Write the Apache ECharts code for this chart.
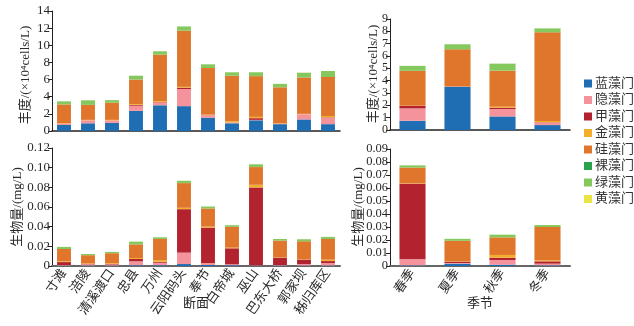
<!DOCTYPE html>
<html><head><meta charset="utf-8">
<script src="https://cdn.jsdelivr.net/npm/echarts@6/dist/echarts.min.js"></script>
<style>html,body{margin:0;padding:0;background:#fff}#c{width:634px;height:326px}</style>
</head><body><div id="c"></div>
<script>
const stations = ['寸滩','涪陵','清溪渡口','忠县','万州','云阳码头','奉节','白帝城','巫山','巴东大桥','郭家坝','秭归库区'];
const seasons = ['春季','夏季','秋季','冬季'];
const phyla = ['蓝藻门','隐藻门','甲藻门','金藻门','硅藻门','裸藻门','绿藻门','黄藻门'];
const colors = ['#1f6db3','#f4939b','#b3232f','#f4ae2a','#e0762c','#2aa14c','#84c85e','#ebe544'];
const yNames = ['丰度/(×10⁴cells/L)','生物量/(mg/L)','丰度/(×10⁴cells/L)','生物量/(mg/L)'];
const xNames = ['断面','季节'];

// abundance by station (×10^4 cells/L)
const absCyano  = [0.7,0.9,0.95,2.35,3.0,2.9,1.55,0.9,1.25,0.8,1.35,0.8];
const absCrypto = [0.15,0.35,0.3,0.6,0.35,2.0,0.3,0.1,0.05,0.05,0.6,0.75];
const absPyrrho = [0,0,0,0.1,0.05,0.15,0,0,0.2,0,0,0.05];
const absChryso = [0.05,0.05,0.05,0.1,0.1,0.1,0.05,0.15,0.15,0.05,0.05,0.15];
const absBacill = [2.2,1.75,2.0,2.85,5.4,6.55,5.45,5.3,4.75,4.2,4.25,4.55];
const absEugleno= [0,0,0,0,0,0,0,0,0,0,0,0];
const absChloro = [0.36,0.53,0.3,0.45,0.4,0.5,0.43,0.4,0.45,0.4,0.55,0.7];
const absXantho = [0,0,0,0,0,0,0,0,0,0,0,0];

// biomass by station (mg/L)
const bioCyano  = [0.0005,0.0005,0.0005,0.0008,0.0008,0.002,0.001,0.0008,0.0005,0.0005,0.0005,0.0005];
const bioCrypto = [0.0005,0.0012,0.001,0.004,0.0025,0.0116,0.002,0.0009,0.0003,0.0005,0.0015,0.0025];
const bioPyrrho = [0.003,0.0003,0.0005,0.0023,0.001,0.0442,0.036,0.0163,0.0791,0.0075,0.0045,0.002];
const bioChryso = [0.0008,0.0005,0.0008,0.001,0.0017,0.0014,0.001,0.0007,0.0027,0.0003,0.0003,0.0015];
const bioBacill = [0.0125,0.0085,0.0102,0.0139,0.0215,0.0251,0.0185,0.0211,0.018,0.017,0.0184,0.021];
const bioEugleno= [0,0,0,0,0,0,0,0,0,0,0,0];
const bioChloro = [0.0021,0.0012,0.0013,0.0028,0.0017,0.0024,0.002,0.0017,0.0028,0.0017,0.002,0.0021];
const bioXantho = [0,0,0,0,0,0,0,0,0,0,0,0];

// abundance by season
const seaAbsCyano  = [0.75,3.5,1.1,0.4];
const seaAbsCrypto = [1.0,0.02,0.6,0.2];
const seaAbsPyrrho = [0.2,0,0.1,0.03];
const seaAbsChryso = [0.02,0,0.08,0.1];
const seaAbsBacill = [2.83,3.02,2.93,7.19];
const seaAbsEugleno= [0,0,0,0];
const seaAbsChloro = [0.4,0.41,0.57,0.32];
const seaAbsXantho = [0,0,0,0];

// biomass by season
const seaBioCyano  = [0.0005,0.0018,0.001,0.0005];
const seaBioCrypto = [0.0046,0.0005,0.0036,0.0013];
const seaBioPyrrho = [0.0582,0.001,0.0018,0.0018];
const seaBioChryso = [0.0003,0.0002,0.0021,0.0008];
const seaBioBacill = [0.0121,0.0159,0.0135,0.0256];
const seaBioEugleno= [0,0,0,0];
const seaBioChloro = [0.0017,0.0015,0.0021,0.0015];
const seaBioXantho = [0,0,0,0];

const yTicksAbsStation = {max:14, interval:2};
const yTicksBioStation = {max:0.12, interval:0.02};
const yTicksAbsSeason = {max:9, interval:1};
const yTicksBioSeason = {max:0.09, interval:0.01};

const groups = [
  [absCyano,absCrypto,absPyrrho,absChryso,absBacill,absEugleno,absChloro,absXantho],
  [bioCyano,bioCrypto,bioPyrrho,bioChryso,bioBacill,bioEugleno,bioChloro,bioXantho],
  [seaAbsCyano,seaAbsCrypto,seaAbsPyrrho,seaAbsChryso,seaAbsBacill,seaAbsEugleno,seaAbsChloro,seaAbsXantho],
  [seaBioCyano,seaBioCrypto,seaBioPyrrho,seaBioChryso,seaBioBacill,seaBioEugleno,seaBioChloro,seaBioXantho]
];

const serif = '"Liberation Serif","Noto Sans CJK SC",serif';
const txt = '#2a2a2a';

function yAxis(idx, ticks, dec, fs){
  return {type:'value', gridIndex:idx, min:0, max:ticks.max, interval:ticks.interval,
    axisLine:{show:true, lineStyle:{color:'#222', width:1}},
    axisTick:{show:true, length:4, lineStyle:{color:'#222'}},
    splitLine:{show:false},
    axisLabel:{fontFamily:serif, fontSize:fs, color:txt, margin:2,
      formatter:v=> v===0 ? '0' : (dec ? v.toFixed(dec) : String(v))}
  };
}
function xAxis(idx, cats, showLabels, name){
  return {type:'category', gridIndex:idx, data:cats,
    axisLine:{show:true, lineStyle:{color: showLabels ? '#666' : '#222', width: showLabels?2:1.5}},
    axisTick:{show:false},
    axisLabel:{show:showLabels, rotate:55, fontFamily:serif, fontSize:13, color:txt, margin:5, interval:0},
    name: name || '', nameLocation:'middle', nameGap:31, nameMoveOverlap:false,
    nameTextStyle:{fontFamily:serif, fontSize:13, color:txt}
  };
}

const series = [];
const stacks = ['tl','bl','tr','br'];
groups.forEach((g, gi) => {
  g.forEach((arr, pi) => {
    series.push({name:phyla[pi], type:'bar', stack:stacks[gi], xAxisIndex:gi, yAxisIndex:gi,
      data:arr, barWidth:'58%', itemStyle:{color:colors[pi]}, emphasis:{disabled:true}});
  });
});

function yName(text, x, y){
  return {type:'text', x:x, y:y, rotation:Math.PI/2,
    style:{text:text, font:'13px ' + serif, fill:txt, align:'center', verticalAlign:'middle'}};
}

const option = {
  animation:false,
  color:colors,
  grid:[
    {left:52, top:11, width:288, height:120},
    {left:52, top:148, width:288, height:118},
    {left:390, top:19, width:180, height:111},
    {left:390, top:149, width:180, height:117}
  ],
  xAxis:[
    xAxis(0, stations, false),
    xAxis(1, stations, true, xNames[0]),
    xAxis(2, seasons, false),
    xAxis(3, seasons, true, xNames[1])
  ],
  yAxis:[
    yAxis(0, yTicksAbsStation, 0, 13),
    yAxis(1, yTicksBioStation, 2, 13),
    yAxis(2, yTicksAbsSeason, 0, 12),
    yAxis(3, yTicksBioSeason, 2, 12.5)
  ],
  graphic:[
    yName(yNames[0], 26, 75),
    yName(yNames[1], 18, 207),
    yName(yNames[2], 374, 74),
    yName(yNames[3], 359, 207)
  ],
  legend:{orient:'vertical', left:579, top:72, itemWidth:8, itemHeight:8, itemGap:3.5,
    icon:'rect', data:phyla, selectedMode:false,
    textStyle:{fontFamily:serif, fontSize:13, color:'#333', padding:[0,0,0,-2]}},
  series:series
};
const chart = echarts.init(document.getElementById('c'), null, {renderer:'canvas'});
chart.setOption(option);
</script>
</body></html>
